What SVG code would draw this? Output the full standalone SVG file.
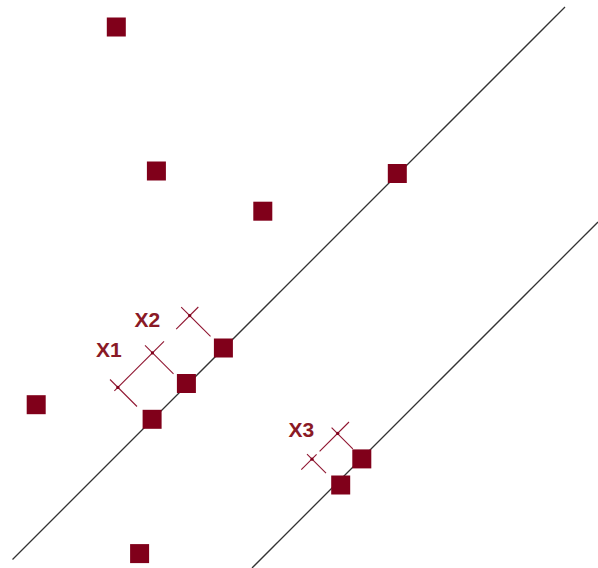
<svg xmlns="http://www.w3.org/2000/svg" width="598" height="568" viewBox="0 0 598 568">
  <style>
    .pt { fill: #80001a; }
    .ln { stroke: #333333; stroke-width: 1.3; fill: none; }
    .dim { stroke: #8f1530; stroke-width: 1.1; fill: none; }
    .dot { fill: #80001a; }
    .lbl { font-family: "Liberation Sans", Arial, sans-serif; font-weight: bold; font-size: 21px; fill: #8a1a26; }
  </style>
  <rect width="598" height="568" fill="#ffffff"/>
  <g id="connectors">
    <line class="ln" x1="12.5" y1="559.5" x2="565" y2="7"/>
    <line class="ln" x1="252" y1="568" x2="598" y2="222"/>
  </g>
  <g id="dimensions">
    <g id="dim-x1">
      <line class="dim" x1="114.4" y1="390.9" x2="164" y2="341.3"/>
      <line class="dim" x1="110" y1="379.5" x2="137" y2="406.5"/>
      <line class="dim" x1="145" y1="345.4" x2="173.5" y2="373.9"/>
      <circle class="dot" cx="117.9" cy="387.4" r="1.6"/>
      <circle class="dot" cx="152.4" cy="352.9" r="1.6"/>
      <text class="lbl" x="96" y="357">X1</text>
    </g>
    <g id="dim-x2">
      <line class="dim" x1="176.2" y1="329.1" x2="198.3" y2="307"/>
      <line class="dim" x1="181.2" y1="307.1" x2="210.5" y2="336.4"/>
      <circle class="dot" cx="189.7" cy="315.6" r="1.6"/>
      <text class="lbl" x="134.5" y="327">X2</text>
    </g>
    <g id="dim-x3">
      <line class="dim" x1="319.6" y1="451.4" x2="349" y2="422"/>
      <line class="dim" x1="331.6" y1="427.7" x2="352.8" y2="448.9"/>
      <line class="dim" x1="301.3" y1="469.7" x2="316.6" y2="454.4"/>
      <line class="dim" x1="307" y1="454.2" x2="326" y2="473.2"/>
      <circle class="dot" cx="337.8" cy="433.4" r="1.6"/>
      <circle class="dot" cx="312" cy="459.2" r="1.6"/>
      <text class="lbl" x="288.5" y="437">X3</text>
    </g>
  </g>
  <g id="n1"><rect class="pt" x="106.8" y="17.5" width="19" height="19"/></g>
  <g id="n2"><rect class="pt" x="146.9" y="161.5" width="19" height="19"/></g>
  <g id="n3"><rect class="pt" x="253.3" y="201.7" width="19" height="19"/></g>
  <g id="n4"><rect class="pt" x="387.8" y="164" width="19" height="19"/></g>
  <g id="n5"><rect class="pt" x="213.9" y="338.5" width="19" height="19"/></g>
  <g id="n6"><rect class="pt" x="176.9" y="374" width="19" height="19"/></g>
  <g id="n7"><rect class="pt" x="142.6" y="409.8" width="19" height="19"/></g>
  <g id="n8"><rect class="pt" x="26.7" y="395.2" width="19" height="19"/></g>
  <g id="n9"><rect class="pt" x="352.3" y="449.4" width="19" height="19"/></g>
  <g id="n10"><rect class="pt" x="331.2" y="475.5" width="19" height="19"/></g>
  <g id="n11"><rect class="pt" x="130.1" y="544.1" width="19" height="19"/></g>
</svg>
